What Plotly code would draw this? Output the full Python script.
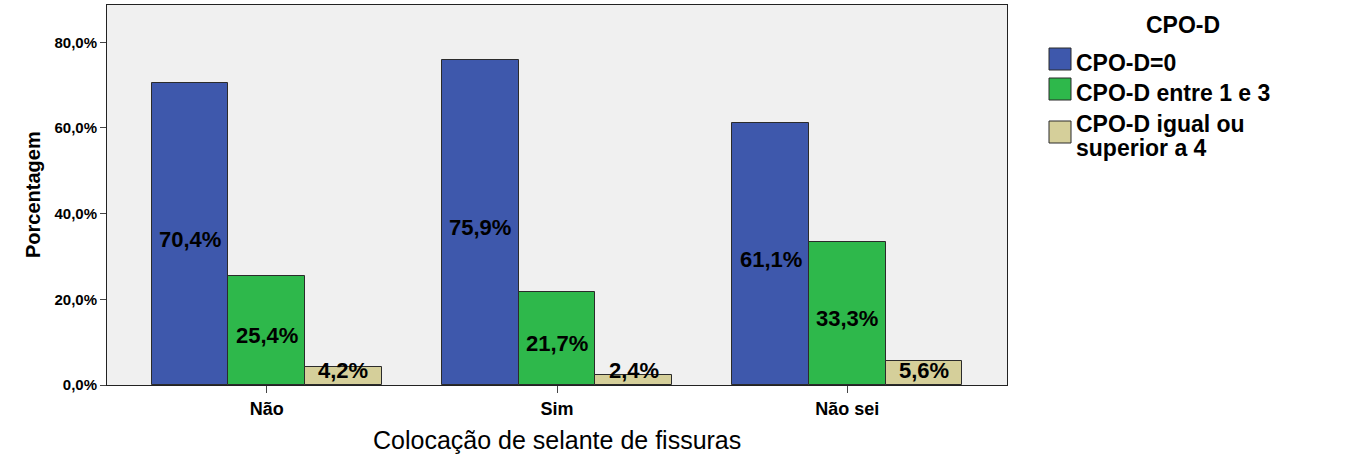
import plotly.graph_objects as go

categories = ["Não", "Sim", "Não sei"]
series_names = ["CPO-D=0", "CPO-D entre 1 e 3", "CPO-D igual ou<br>superior a 4"]
values_cpo0 = [70.4, 75.9, 61.1]
values_1a3 = [25.4, 21.7, 33.3]
values_4mais = [4.2, 2.4, 5.6]
series_values = [values_cpo0, values_1a3, values_4mais]
colors = ["#3E58AC", "#2EB84B", "#D5CF9A"]
y_ticks = [0, 20, 40, 60, 80]
y_ticklabels = ["0,0%", "20,0%", "40,0%", "60,0%", "80,0%"]

FONT = "Liberation Sans, Arial, sans-serif"
W, H = 1363, 467
L, R, T, B = 107, 1007, 5, 385

def px_x(p):
    return (p - L) / (R - L)

def px_y(p):
    return (B - p) / (B - T)

bar_w = 0.264
n = len(series_names)
fig = go.Figure()
annotations = []
for k, (name, vals, col) in enumerate(zip(series_names, series_values, colors)):
    off = (k - (n - 1) / 2) * bar_w
    xs = [i + off for i in range(len(categories))]
    fig.add_trace(go.Bar(
        x=xs, y=vals, name=name, width=bar_w,
        marker=dict(color=col, line=dict(color="#2b2b2b", width=1)),
        showlegend=False, hoverinfo="skip",
    ))
    for x, v in zip(xs, vals):
        small = v < 10
        annotations.append(dict(
            x=x, y=max(v / 2, 3.3), xref="x", yref="y", showarrow=False,
            yshift=0 if small else -5,
            xanchor="center", yanchor="middle",
            text=f"{v:.1f}%".replace(".", ","),
            font=dict(family=FONT, size=22, color="black", weight="bold"),
        ))

# Axis titles
annotations.append(dict(x=px_x(557), y=px_y(440), xref="paper", yref="paper",
                        xanchor="center", yanchor="middle",
                        showarrow=False, text="Colocação de selante de fissuras",
                        font=dict(family=FONT, size=25, color="black")))
annotations.append(dict(x=px_x(33), y=px_y(195), xref="paper", yref="paper",
                        xanchor="center", yanchor="middle",
                        showarrow=False, text="Porcentagem", textangle=-90,
                        font=dict(family=FONT, size=20, color="black", weight="bold")))

# Custom legend
shapes = []
annotations.append(dict(x=px_x(1183), y=px_y(25), xref="paper", yref="paper",
                        showarrow=False, text="CPO-D", xanchor="center", yanchor="middle",
                        font=dict(family=FONT, size=23, color="black", weight="bold")))
sw_top = [48, 78, 121]
txt_y = [63, 93, 124]
line_gap = 24
for k, (name, col) in enumerate(zip(series_names, colors)):
    shapes.append(dict(type="rect", xref="paper", yref="paper",
                       x0=px_x(1049), x1=px_x(1071), y0=px_y(sw_top[k]), y1=px_y(sw_top[k] + 22),
                       fillcolor=col, line=dict(color="#2b2b2b", width=1)))
    for j, line in enumerate(name.split("<br>")):
        annotations.append(dict(x=px_x(1074), y=px_y(txt_y[k] + j * line_gap),
                                xref="paper", yref="paper",
                                showarrow=False, text=line, xanchor="left", yanchor="middle",
                                font=dict(family=FONT, size=23, color="black", weight="bold")))

fig.update_layout(
    width=W, height=H,
    margin=dict(l=L, r=W - R, t=T, b=H - B, pad=0),
    paper_bgcolor="white", plot_bgcolor="#F0F0F0",
    barmode="overlay", bargap=0,
    annotations=annotations, shapes=shapes,
    showlegend=False,
)
fig.update_xaxes(
    range=[-0.55, 2.55], tickvals=list(range(len(categories))), ticktext=categories,
    showgrid=False, zeroline=False, showline=True, linecolor="#222", linewidth=1, mirror=True,
    ticks="outside", ticklen=7, tickcolor="#444",
    tickfont=dict(family=FONT, size=18, color="black", weight="bold"),
)
fig.update_yaxes(
    range=[0, 88.7], tickvals=y_ticks, ticktext=y_ticklabels,
    showgrid=False, zeroline=False, showline=True, linecolor="#222", linewidth=1, mirror=True,
    ticks="outside", ticklen=6, tickcolor="#444",
    tickfont=dict(family=FONT, size=15, color="black", weight="bold"),
)
fig.write_html("out.html")
